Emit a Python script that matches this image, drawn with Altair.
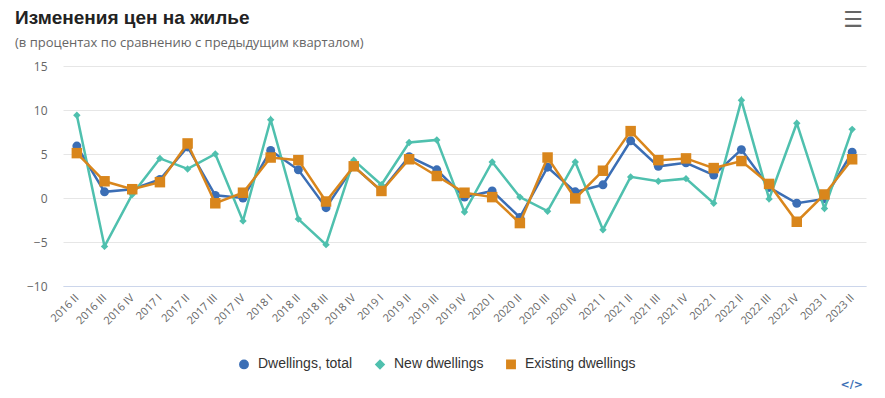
import altair as alt
import pandas as pd

quarters = ["2016 II", "2016 III", "2016 IV",
            "2017 I", "2017 II", "2017 III", "2017 IV",
            "2018 I", "2018 II", "2018 III", "2018 IV",
            "2019 I", "2019 II", "2019 III", "2019 IV",
            "2020 I", "2020 II", "2020 III", "2020 IV",
            "2021 I", "2021 II", "2021 III", "2021 IV",
            "2022 I", "2022 II", "2022 III", "2022 IV",
            "2023 I", "2023 II"]

total = [5.9, 0.7, 1.0, 2.1, 5.8, 0.3, 0.0, 5.4, 3.2,
         -1.1, 3.6, 0.8, 4.7, 3.2, 0.1, 0.8, -2.2, 3.5, 0.7,
         1.5, 6.5, 3.6, 4.0, 2.6, 5.5, 1.2, -0.6, -0.1, 5.2]

new = [9.4, -5.5, 0.4, 4.5, 3.3, 5.0, -2.6, 8.9, -2.4,
       -5.3, 4.3, 1.5, 6.3, 6.6, -1.6, 4.1, 0.1, -1.5, 4.1,
       -3.6, 2.4, 1.9, 2.2, -0.6, 11.1, -0.1, 8.5, -1.2, 7.8]

existing = [5.1, 1.9, 1.0, 1.8, 6.2, -0.6, 0.6, 4.6, 4.3,
            -0.4, 3.6, 0.8, 4.4, 2.5, 0.6, 0.1, -2.85, 4.6, -0.05,
            3.1, 7.6, 4.3, 4.5, 3.4, 4.2, 1.6, -2.7, 0.4, 4.4]

series_names = ["Dwellings, total", "New dwellings", "Existing dwellings"]
series_colors = ["#3b6eb5", "#4fc0ae", "#d9861c"]
series_shapes = ["circle", "diamond", "square"]

title_text = "Изменения цен на жилье"
subtitle_text = "(в процентах по сравнению с предыдущим кварталом)"

rows = []
for name, vals in zip(series_names, [total, new, existing]):
    for q, v in zip(quarters, vals):
        rows.append({"quarter": q, "value": v, "series": name})
df = pd.DataFrame(rows)

x_enc = alt.X("quarter:N", sort=quarters, title=None,
              scale=alt.Scale(type="point", padding=0.5),
              axis=alt.Axis(labelAngle=-45, labelAlign="right", labelBaseline="middle",
                            labelFont="Open Sans", labelFontSize=11, labelColor="#666666",
                            labelPadding=10, ticks=False, domain=True,
                            domainColor="#ccd6eb", grid=False, labelOverlap=False))
y_enc = alt.Y("value:Q", title=None,
              scale=alt.Scale(domain=[-10, 15], nice=False, zero=False),
              axis=alt.Axis(values=[-10, -5, 0, 5, 10, 15], domain=False, ticks=False,
                            labelFont="Open Sans", labelFontSize=12, labelColor="#666666",
                            labelPadding=16, gridColor="#e6e6e6", gridWidth=1))

legend = alt.Legend(title=None, orient="none", direction="horizontal",
                    legendX=174, legendY=291,
                    labelFont="Liberation Sans", labelFontSize=14,
                    labelColor="#333333", symbolSize=70,
                    columnPadding=19, labelOffset=7)
color_enc = alt.Color("series:N",
                      scale=alt.Scale(domain=series_names, range=series_colors),
                      legend=legend)
shape_enc = alt.Shape("series:N",
                      scale=alt.Scale(domain=series_names, range=series_shapes),
                      legend=legend)

layers = []
for name, shp, sz in zip(series_names, series_shapes, [80, 55, 110]):
    sub = alt.Chart(df[df["series"] == name])
    layers.append(sub.mark_line(strokeWidth=2.5).encode(x=x_enc, y=y_enc, color=color_enc))
    layers.append(sub.mark_point(filled=True, opacity=1, size=sz).encode(
        x=x_enc, y=y_enc, color=color_enc, shape=shape_enc))

title_mark = alt.Chart(pd.DataFrame({"t": [title_text]})).mark_text(
    font="Liberation Sans", fontSize=19, fontWeight="bold", color="#222222",
    align="left", baseline="alphabetic").encode(
    text="t:N", x=alt.value(-48), y=alt.value(-42))
subtitle_mark = alt.Chart(pd.DataFrame({"t": [subtitle_text]})).mark_text(
    font="Open Sans", fontSize=13, color="#666666",
    align="left", baseline="alphabetic").encode(
    text="t:N", x=alt.value(-48), y=alt.value(-19))
menu = alt.Chart(pd.DataFrame({"t": ["☰"]})).mark_text(
    font="DejaVu Sans", fontSize=22, color="#666666",
    align="center", baseline="middle").encode(
    text="t:N", x=alt.value(790), y=alt.value(-46))
code = alt.Chart(pd.DataFrame({"t": ["</>"]})).mark_text(
    font="DejaVu Sans", fontSize=11, fontWeight="bold", color="#3b6eb5",
    align="right", baseline="middle").encode(
    text="t:N", x=alt.value(800), y=alt.value(319))

chart = alt.layer(*layers, title_mark, subtitle_mark, menu, code).properties(
    width=803, height=220,
    padding={"left": 55, "top": 58, "right": 11, "bottom": 104},
    autosize=alt.AutoSizeParams(type="none"),
).configure(background="white").configure_view(stroke="transparent", strokeWidth=0)

chart.save("out.html", embed_options={"renderer": "svg", "actions": False})
